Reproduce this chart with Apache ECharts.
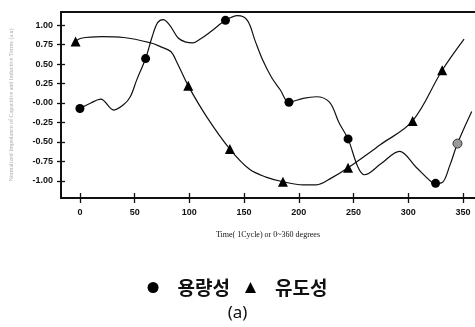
<!DOCTYPE html>
<html>
<head>
<meta charset="utf-8">
<script src="https://cdn.jsdelivr.net/npm/echarts@6/dist/echarts.min.js"></script>
<style>html,body{margin:0;padding:0;background:#fff}#c{width:475px;height:327px}</style>
</head>
<body>
<div id="c"></div>
<script>
// Tick labels
var xTicks = [0, 50, 100, 150, 200, 250, 300, 350];
var yTicks = [-1, -0.75, -0.5, -0.25, 0, 0.25, 0.5, 0.75, 1];

// 용량성 (capacitive) curve
var capCurveX = [0, 10, 19, 31, 40, 46, 52, 60, 66, 71, 76, 82, 90, 97, 103, 110, 120, 133, 144, 153, 160, 167, 175, 183, 191, 204, 216, 228, 237, 245, 254, 260, 275, 292, 307, 321, 325, 331, 338, 345, 358];
var capCurveY = [-0.07, 0.0, 0.05, -0.09, -0.02, 0.08, 0.3, 0.57, 0.85, 1.03, 1.07, 1.0, 0.83, 0.78, 0.77, 0.82, 0.92, 1.06, 1.12, 1.06, 0.8, 0.55, 0.33, 0.17, 0.01, 0.06, 0.08, 0.01, -0.26, -0.46, -0.82, -0.92, -0.78, -0.62, -0.82, -1.01, -1.03, -1.02, -0.8, -0.52, -0.11];
// 용량성 markers
var capMarkX = [0, 60, 133, 191, 245, 325, 345];
var capMarkY = [-0.07, 0.57, 1.06, 0.01, -0.46, -1.03, -0.52];

// 유도성 (inductive) curve
var indCurveX = [-4, 1, 20, 40, 65, 74, 83, 89, 99, 116, 137, 155, 170, 185.5, 204, 216, 230, 245, 275, 304, 331, 351];
var indCurveY = [0.79, 0.83, 0.85, 0.84, 0.77, 0.72, 0.66, 0.51, 0.22, -0.18, -0.59, -0.85, -0.95, -1.01, -1.05, -1.05, -0.96, -0.83, -0.53, -0.23, 0.42, 0.82];
// 유도성 markers
var indMarkX = [-4, 99, 137, 185.5, 245, 304, 331];
var indMarkY = [0.79, 0.22, -0.59, -1.01, -0.83, -0.23, 0.42];

function zip(a, b) { return a.map(function (v, i) { return [v, b[i]]; }); }

var chart = echarts.init(document.getElementById('c'));
var XMIN = -17.3, XMAX = 361, YMIN = -1.218, YMAX = 1.167;
var lblFont = { fontFamily: 'Liberation Sans', fontWeight: 'bold', fontSize: 9, color: '#111' };

var capMarks = zip(capMarkX, capMarkY).map(function (p, i) {
  return i === capMarkX.length - 1 ? { value: p, itemStyle: { color: '#999', borderColor: '#333', borderWidth: 1 } } : p;
});

chart.setOption({
  animation: false,
  backgroundColor: '#fff',
  grid: { left: 60, top: 12, right: 0, bottom: 129 },
  legend: {
    data: [{ name: '용량성', icon: 'circle' }, { name: '유도성', icon: 'triangle' }],
    left: 'center', top: 273,
    itemWidth: 11, itemHeight: 11, itemGap: 15,
    itemStyle: { color: '#000' },
    textStyle: { fontFamily: 'Noto Sans CJK KR', fontWeight: 'bold', fontSize: 19, color: '#111', padding: [0, 0, 0, 14] }
  },
  title: {
    text: '(a)', left: 'center', top: 300,
    textStyle: { fontFamily: 'Noto Sans', fontWeight: 'normal', fontSize: 17, color: '#111' }
  },
  xAxis: [
    {
      type: 'value', min: XMIN, max: XMAX, position: 'bottom',
      name: 'Time( 1Cycle) or 0~360 degrees', nameLocation: 'middle', nameGap: 33,
      nameTextStyle: { fontFamily: 'Liberation Serif', fontSize: 8, color: '#111' },
      axisLine: { show: true, onZero: false, lineStyle: { color: '#111', width: 2 } },
      axisTick: { show: true, length: 5, customValues: xTicks, lineStyle: { color: '#111', width: 1.3 } },
      axisLabel: { customValues: xTicks, margin: 10, ...lblFont },
      splitLine: { show: false }
    },
    {
      type: 'value', min: XMIN, max: XMAX, position: 'bottom', gridIndex: 0,
      axisLine: { show: false, onZero: false },
      axisTick: { show: true, inside: true, length: 5, customValues: xTicks, lineStyle: { color: '#111', width: 1.3 } },
      axisLabel: { show: false }, splitLine: { show: false }
    },
    {
      type: 'value', min: XMIN, max: XMAX, position: 'top',
      axisLine: { show: true, onZero: false, lineStyle: { color: '#111', width: 2 } },
      axisTick: { show: false }, axisLabel: { show: false }, splitLine: { show: false }
    }
  ],
  yAxis: [
    {
      type: 'value', min: YMIN, max: YMAX, position: 'left',
      name: 'Normalized Impedance of Capacitive and Inductive Terms (a.u)',
      nameLocation: 'middle', nameGap: 47, nameRotate: 90,
      nameTextStyle: { fontFamily: 'Liberation Serif', fontSize: 6, color: '#aaa' },
      axisLine: { show: true, onZero: false, lineStyle: { color: '#111', width: 2 } },
      axisTick: { show: true, length: 4, customValues: yTicks, lineStyle: { color: '#111', width: 1.3 } },
      axisLabel: {
        customValues: yTicks, margin: 8, ...lblFont,
        formatter: function (v) { return Math.abs(v) < 1e-9 ? '-0.00' : v.toFixed(2); }
      },
      splitLine: { show: false }
    },
    {
      type: 'value', min: YMIN, max: YMAX, position: 'left', offset: 0,
      axisLine: { show: false, onZero: false },
      axisTick: { show: true, inside: true, length: 4, customValues: yTicks, lineStyle: { color: '#111', width: 1.3 } },
      axisLabel: { show: false }, splitLine: { show: false }
    }
  ],
  series: [
    {
      type: 'line', name: 'capCurve', data: zip(capCurveX, capCurveY), smooth: 0.35,
      showSymbol: false, symbol: 'none', lineStyle: { color: '#111', width: 1.2 }, z: 2
    },
    {
      type: 'line', name: 'indCurve', data: zip(indCurveX, indCurveY), smooth: 0.35,
      showSymbol: false, symbol: 'none', lineStyle: { color: '#111', width: 1.2 }, z: 2
    },
    {
      type: 'scatter', name: '용량성', data: capMarks, symbol: 'circle', symbolSize: 9,
      itemStyle: { color: '#000', opacity: 1 }, z: 5
    },
    {
      type: 'scatter', name: '유도성', data: zip(indMarkX, indMarkY), symbol: 'triangle', symbolSize: 10,
      itemStyle: { color: '#000', opacity: 1 }, z: 5
    }
  ]
});
</script>
</body>
</html>
